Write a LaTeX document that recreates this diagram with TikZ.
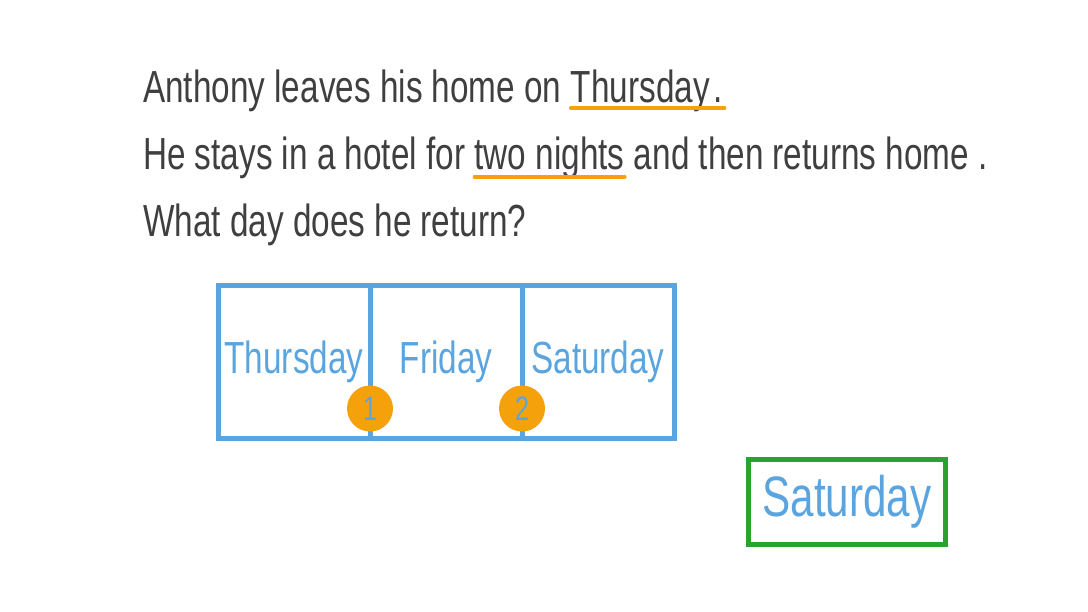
\documentclass[tikz,border=0pt]{standalone}
\usepackage{fontspec}
\setmainfont[FakeStretch=0.74]{Liberation Sans}
\usepackage{xcolor}
\usetikzlibrary{calc,positioning}
\definecolor{TxtGray}{HTML}{3F3F3F}
\definecolor{DayBlue}{HTML}{5AA5E0}
\definecolor{NightOrange}{HTML}{F4A10C}
\definecolor{AnsGreen}{HTML}{29A22E}
\tikzset{%Global config
	>=latex,
	color = black ,
	%Styles
	Line/.style={
		font=\fontsize{45}{54}\selectfont,
		text=TxtGray,
		inner sep=0pt,
		anchor=base west,
	},
	Day/.style={
		draw=DayBlue,
		line width=5pt,
		minimum width=152pt,
		minimum height=153pt,
		outer sep=0pt,
		text=DayBlue,
		font=\fontsize{45}{50}\selectfont,
	},
	Night/.style={
		circle,
		fill=NightOrange,
		minimum size=46pt,
		inner sep=0pt,
		text=DayBlue,
		font=\fontsize{34}{38}\selectfont,
	},
	Mark/.style={
		draw=NightOrange,
		line width=3.5pt,
		line cap=round,
	},
	Answer/.style={
		draw=AnsGreen,
		line width=5pt,
		minimum width=197pt,
		minimum height=85pt,
		text=DayBlue,
		font=\fontsize{57}{62}\selectfont,
	}
}

\begin{document}
\begin{tikzpicture}[x=1pt,y=-1pt]
		\useasboundingbox (0,0) rectangle (1088,612);
		% Question text
		\node[Line] (L1a) at (143,103) {Anthony leaves his home on};
		\node[Line, base right=9pt of L1a] (L1b) {Thursday};
		\node[Line, base right=3pt of L1b] (L1c) {.};
		\node[Line] (L2a) at (143,170) {He stays in a hotel for};
		\node[Line, base right=9pt of L2a] (L2b) {two nights};
		\node[Line, base right=9pt of L2b] (L2c) {and then returns home .};
		\node[Line] (L3) at (143,237) {What day does he return?};
		
		% Underlines
		\draw[Mark] ($(L1b.base west)+(0,5)$) -- ($(L1c.base east)+(2,5)$);
		\draw[Mark] ($(L2b.base west)+(0,7)$) -- ($(L2b.base east)+(0,7)$);
		
		% Days
		\node[Day] (D1) at (294,362) {Thursday};
		\node[Day, right=0pt of D1] (D2) {Friday};
		\node[Day, right=0pt of D2] (D3) {Saturday};
		
		% Nights
		\node[Night] (N1) at ($(D1.south east)+(0,-30)$) {1};
		\node[Night] (N2) at ($(D2.south east)+(0,-30)$) {2};
		
		% Answer
		\node[Answer] (A) at (847,502) {Saturday};
	\end{tikzpicture}
\end{document}
